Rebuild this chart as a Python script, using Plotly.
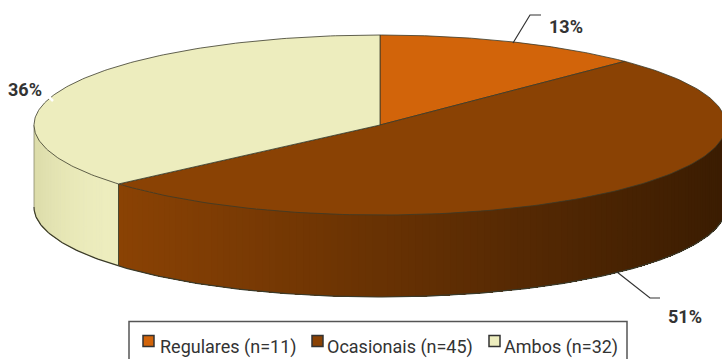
import numpy as np
import plotly.graph_objects as go

categories = ["Regulares (n=11)", "Ocasionais (n=45)", "Ambos (n=32)"]
counts = [11, 45, 32]
percent_labels = ["13%", "51%", "36%"]
colors = ["#D2640A", "#8A4204", "#EDEDBE"]

CX, CY, RX, RY, DEPTH = 380, 125, 346, 90, 82
OUTLINE = "#3a3a2a"
FONT = "Roboto, sans-serif"
TEXT = "#333333"

total = sum(counts)
edges = np.concatenate([[0], np.cumsum(counts)]) / total * 2 * np.pi


def px(t):
    return CX + RX * np.sin(t)


def py(t, drop=0):
    return CY - RY * np.cos(t) + drop


def mix(a, b, f):
    return "rgb(%d,%d,%d)" % tuple(round(a[i] + (b[i] - a[i]) * f) for i in range(3))


fig = go.Figure()


def poly(x, y, fill, line_color=None, width=0.8):
    fig.add_trace(go.Scatter(
        x=x, y=y, mode="lines", fill="toself", fillcolor=fill,
        line=dict(color=line_color if line_color else fill, width=width if line_color else 0),
        hoverinfo="skip", showlegend=False))


def line(x, y, color=OUTLINE, width=1.0):
    fig.add_trace(go.Scatter(x=x, y=y, mode="lines",
                             line=dict(color=color, width=width),
                             hoverinfo="skip", showlegend=False))


# side wall: painted as overlapping layers, each reaching the far end of its slice,
# so that the horizontal shading has no seams
wall_shades = {1: ((138, 66, 4), (58, 28, 2)), 2: ((237, 237, 190), (220, 220, 170))}
for idx, (start, stop) in {1: (edges[2], np.pi / 2), 2: (edges[2], 1.5 * np.pi)}.items():
    steps = np.linspace(start, stop, 120)
    x_a, x_b = px(steps[0]), px(steps[-1])
    for k in range(len(steps) - 1):
        f = abs(px(steps[k]) - x_a) / abs(x_b - x_a)
        f = f if idx == 1 else f ** 2
        tt = steps[k:]
        poly(np.r_[px(tt), px(tt[::-1])],
             np.r_[py(tt), py(tt[::-1], DEPTH)],
             mix(*wall_shades[idx], f))

# outlines of the wall
tt = np.linspace(np.pi / 2, 1.5 * np.pi, 240)
line(px(tt), py(tt, DEPTH), width=1.2)
line([px(np.array(1.5 * np.pi))] * 2, [py(1.5 * np.pi), py(1.5 * np.pi, DEPTH)], "#8a8a70", 0.8)
line([px(edges[2])] * 2, [py(edges[2]), py(edges[2], DEPTH)], "#4a4a30", 1.0)

# top face
for i, col in enumerate(colors):
    tt = np.linspace(edges[i], edges[i + 1], 160)
    poly(np.r_[CX, px(tt), CX], np.r_[CY, py(tt), CY], col, OUTLINE, 0.8)

# leader lines
line([513, 530, 541], [43, 15, 15], "#333333", 1.2)
line([617, 650, 660], [272, 298, 298], "#333333", 1.2)
line([43, 53], [91, 101], "#ffffff", 2.5)

annotations = []
for text, x, y in zip(percent_labels, [566, 685, 25], [26, 316, 89]):
    annotations.append(dict(x=x, y=y, text="<b>%s</b>" % text, showarrow=False,
                            xref="x", yref="y",
                            font=dict(family=FONT, size=18, color=TEXT)))

# legend
shapes = [dict(type="rect", xref="x", yref="y", x0=129, x1=627, y0=321.5, y1=365,
               line=dict(color="#555555", width=1.5), fillcolor="#ffffff", layer="above")]
for col, cat, bx, tx in zip(colors, categories, [143, 312, 489], [158, 325, 502]):
    shapes.append(dict(type="rect", xref="x", yref="y", x0=bx, x1=bx + 11, y0=335.5, y1=346.5,
                       line=dict(color="#333333", width=1.5), fillcolor=col, layer="above"))
    annotations.append(dict(x=tx, y=347, text=cat, showarrow=False, xref="x", yref="y",
                            xanchor="left", font=dict(family=FONT, size=18, color=TEXT)))

fig.update_layout(
    width=722, height=359, margin=dict(l=0, r=0, t=0, b=0),
    paper_bgcolor="#ffffff", plot_bgcolor="#ffffff", showlegend=False,
    xaxis=dict(range=[0, 722], visible=False, fixedrange=True),
    yaxis=dict(range=[359, 0], visible=False, fixedrange=True),
    shapes=shapes, annotations=annotations,
)
fig.write_html("out.html", config={"displayModeBar": False},
               post_script="document.body.style.margin='0';document.body.style.overflow='hidden';")
